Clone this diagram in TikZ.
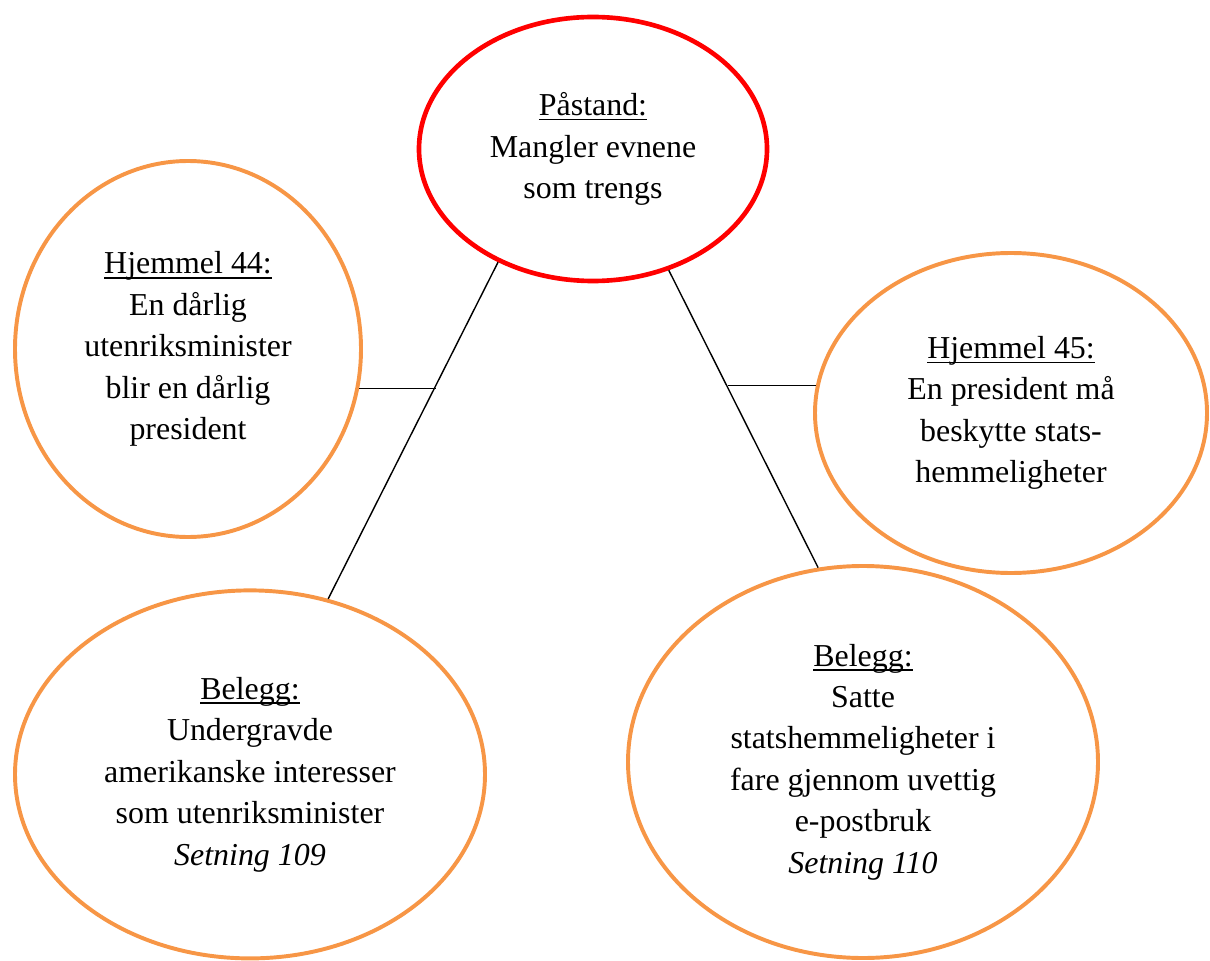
\documentclass[tikz,border=0pt]{standalone}
\usepackage{fontspec}
\setmainfont{Liberation Serif}
\usetikzlibrary{shapes.geometric}

\definecolor{claimred}{RGB}{255,0,0}
\definecolor{partorange}{HTML}{F79646}
\newsavebox\headbox
\newcommand{\ulhead}[1]{\sbox\headbox{#1}\rlap{\rule[-3.4pt]{\wd\headbox}{1.2pt}}\usebox\headbox}

\begin{document}
\begin{tikzpicture}[
    claimnode/.style={ellipse,draw=claimred,line width=3.3pt,inner sep=0pt,align=center,font=\fontsize{22.7}{29.5}\selectfont},
    partnode/.style={ellipse,draw=partorange,line width=2.8pt,inner sep=0pt,align=center,font=\fontsize{22.7}{29.5}\selectfont},
    link/.style={line width=1pt}]
                    \useasboundingbox (0,0) rectangle (30.25,-24.025);
                    \path
                    (14.825,-3.725) node[claimnode,minimum width=8.7cm,minimum height=6.6cm](claim) {\ulhead{Påstand:}\\Mangler evnene\\som trengs}
                    (4.7,-8.725) node[partnode,minimum width=8.65cm,minimum height=9.4cm](w44) {\ulhead{Hjemmel 44:}\\En dårlig\\utenriksminister\\blir en dårlig\\president}
                    (25.275,-10.325) node[partnode,minimum width=9.8cm,minimum height=8cm](w45) {\ulhead{Hjemmel 45:}\\En president må\\beskytte stats-\\hemmeligheter}
                    (6.25,-19.36) node[partnode,minimum width=11.75cm,minimum height=9.2cm](ev109) {\ulhead{Belegg:}\\Undergravde\\amerikanske interesser\\som utenriksminister\\\textit{Setning 109}}
                    (21.575,-19.05) node[partnode,minimum width=11.75cm,minimum height=9.8cm](ev110) {\ulhead{Belegg:}\\Satte\\statshemmeligheter i\\fare gjennom uvettig\\e-postbruk\\\textit{Setning 110}};

                    \draw[link] (claim.230.5) -- coordinate[pos=0.367](lj) (ev109.66.7);
                    \draw[link] (claim.302.7) -- coordinate[pos=0.395](rj) (ev110.103.3);

                    \draw[link] (w44.347.7) -- (w44.347.7 -| lj);
                    \draw[link] (w45.172.3) -- (w45.172.3 -| rj);
                \end{tikzpicture}
\end{document}
